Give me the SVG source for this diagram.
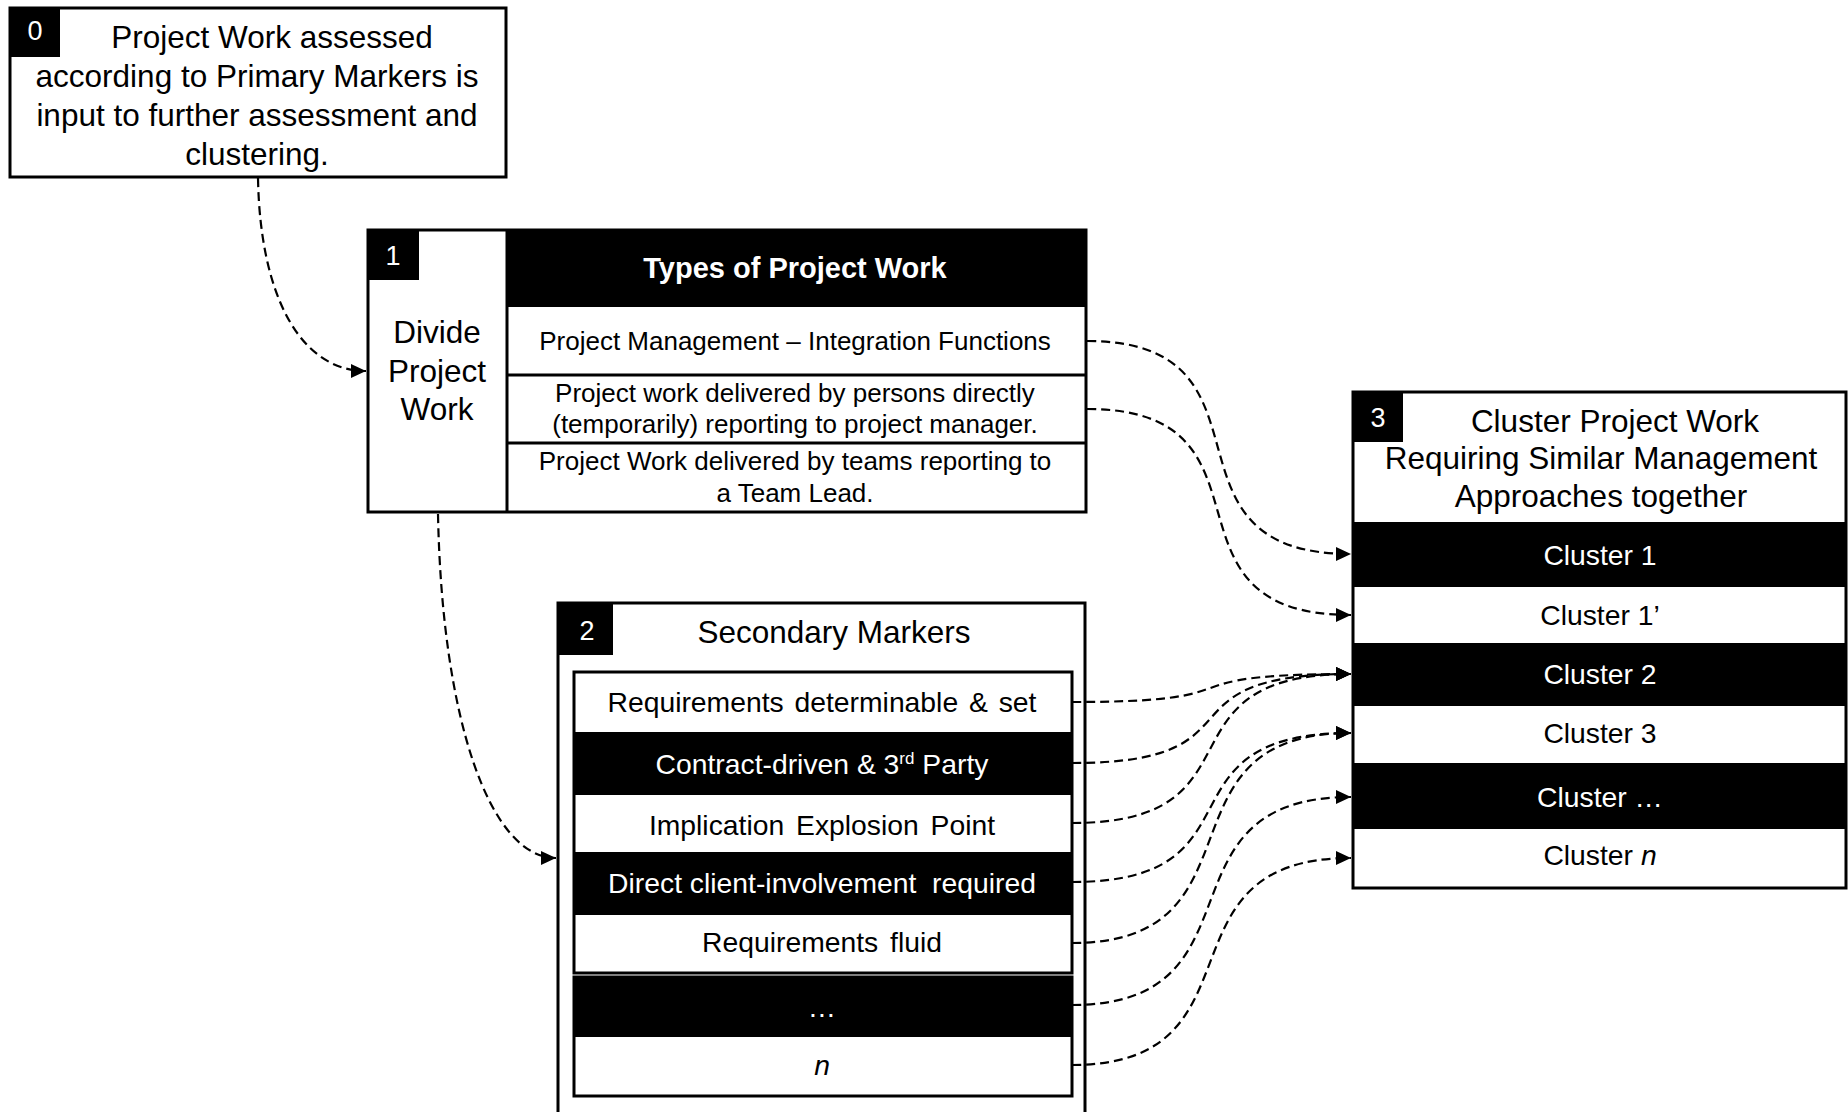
<svg xmlns="http://www.w3.org/2000/svg" width="1848" height="1112" viewBox="0 0 1848 1112">
  <defs>
    <marker id="arrow" markerUnits="userSpaceOnUse" markerWidth="16" markerHeight="14" refX="15" refY="7" orient="auto">
      <path d="M0,0 L15,7 L0,14 z" fill="#000"/>
    </marker>
    <style>
      text { font-family: "Liberation Sans", Arial, sans-serif; fill: #000; text-anchor: middle; }
      .w { fill: #fff; }
      .box { fill: #fff; stroke: #000; stroke-width: 3; }
      .blk { fill: #000; }
      .line { stroke: #000; stroke-width: 3; fill: none; }
      .badge { font-size: 27px; fill: #fff; }
      .big { font-size: 31.5px; }
      .mid { font-size: 28.3px; }
      .sm { font-size: 26px; }
      .conn { fill: none; stroke: #000; stroke-width: 2.2; stroke-dasharray: 9 5; marker-end: url(#arrow); }
    </style>
  </defs>

  <!-- Step 0 -->
  <g id="node-0">
    <rect class="box" x="10" y="8" width="496" height="169"/>
    <rect class="blk" x="10" y="8" width="50" height="49"/>
    <text class="badge" x="35" y="40">0</text>
    <text class="big" x="272" y="48">Project Work assessed</text>
    <text class="big" x="257" y="87">according to Primary Markers is</text>
    <text class="big" x="257" y="126">input to further assessment and</text>
    <text class="big" x="257" y="165">clustering.</text>
  </g>

  <!-- Step 1 -->
  <g id="node-1">
    <rect class="box" x="368" y="230" width="718" height="282"/>
    <rect class="blk" x="507" y="230" width="579" height="77"/>
    <line class="line" x1="507" y1="230" x2="507" y2="512"/>
    <line class="line" x1="507" y1="375" x2="1086" y2="375"/>
    <line class="line" x1="507" y1="443" x2="1086" y2="443"/>
    <rect class="blk" x="368" y="230" width="51" height="50"/>
    <text class="badge" x="393" y="265">1</text>
    <text class="big" x="437" y="343">Divide</text>
    <text class="big" x="437" y="382">Project</text>
    <text class="big" x="437" y="420">Work</text>
    <text class="w" x="795" y="278" font-size="29" font-weight="bold">Types of Project Work</text>
    <text class="sm" x="795" y="350">Project Management – Integration Functions</text>
    <text class="sm" x="795" y="402">Project work delivered by persons directly</text>
    <text class="sm" x="795" y="433">(temporarily) reporting to project manager.</text>
    <text class="sm" x="795" y="470">Project Work delivered by teams reporting to</text>
    <text class="sm" x="795" y="502">a Team Lead.</text>
  </g>

  <!-- Step 2 -->
  <g id="node-2">
    <rect class="box" x="558" y="603" width="527" height="520"/>
    <rect class="blk" x="558" y="603" width="55" height="52"/>
    <text class="badge" x="587" y="640">2</text>
    <text class="big" x="834" y="643">Secondary Markers</text>
    <rect class="box" x="574" y="672" width="498" height="301"/>
    <rect class="blk" x="574" y="732" width="498" height="63"/>
    <rect class="blk" x="574" y="852" width="498" height="63"/>
    <rect class="box" x="574" y="977" width="498" height="119"/>
    <rect class="blk" x="574" y="977" width="498" height="60"/>
    <text class="mid" x="822" y="712" word-spacing="3">Requirements determinable &amp; set</text>
    <text class="mid w" x="822" y="774">Contract-driven &amp; 3<tspan font-size="17" dy="-10">rd</tspan><tspan dy="10"> Party</tspan></text>
    <text class="mid" x="822" y="835" word-spacing="4">Implication Explosion Point</text>
    <text class="mid w" x="822" y="893" xml:space="preserve">Direct client-involvement  required</text>
    <text class="mid" x="822" y="952" word-spacing="4">Requirements fluid</text>
    <text class="mid w" x="822" y="1017">…</text>
    <text class="mid" x="822" y="1075" font-style="italic">n</text>
  </g>

  <!-- Step 3 -->
  <g id="node-3">
    <rect class="box" x="1353" y="392" width="493" height="496"/>
    <rect class="blk" x="1353" y="522" width="493" height="65"/>
    <rect class="blk" x="1353" y="643" width="493" height="63"/>
    <rect class="blk" x="1353" y="763" width="493" height="66"/>
    <rect class="blk" x="1353" y="392" width="50" height="50"/>
    <text class="badge" x="1378" y="427">3</text>
    <text class="big" x="1615" y="432">Cluster Project Work</text>
    <text class="big" x="1601" y="469">Requiring Similar Management</text>
    <text class="big" x="1601" y="507">Approaches together</text>
    <text class="mid w" x="1600" y="565">Cluster 1</text>
    <text class="mid" x="1600" y="625">Cluster 1’</text>
    <text class="mid w" x="1600" y="684">Cluster 2</text>
    <text class="mid" x="1600" y="743">Cluster 3</text>
    <text class="mid w" x="1600" y="807">Cluster …</text>
    <text class="mid" x="1600" y="865">Cluster <tspan font-style="italic">n</tspan></text>
  </g>

  <!-- Dashed flow connectors -->
  <g id="connectors">
    <path class="conn" d="M258,178 C260,295 300,371 366,371"/>
    <path class="conn" d="M438,514 C442,720 490,858 556,858"/>
    <path class="conn" d="M1087,341 C1290,341 1145,554 1351,554"/>
    <path class="conn" d="M1087,409 C1290,409 1145,615 1351,615"/>
    <path class="conn" d="M1072,702 C1270,702 1150,674 1351,674"/>
    <path class="conn" d="M1072,763 C1270,763 1150,674 1351,674"/>
    <path class="conn" d="M1072,823 C1270,823 1150,674 1351,674"/>
    <path class="conn" d="M1072,882 C1270,882 1150,733 1351,733"/>
    <path class="conn" d="M1072,943 C1270,943 1150,733 1351,733"/>
    <path class="conn" d="M1072,1005 C1270,1005 1150,797 1351,797"/>
    <path class="conn" d="M1072,1065 C1270,1065 1150,858 1351,858"/>
  </g>
</svg>
